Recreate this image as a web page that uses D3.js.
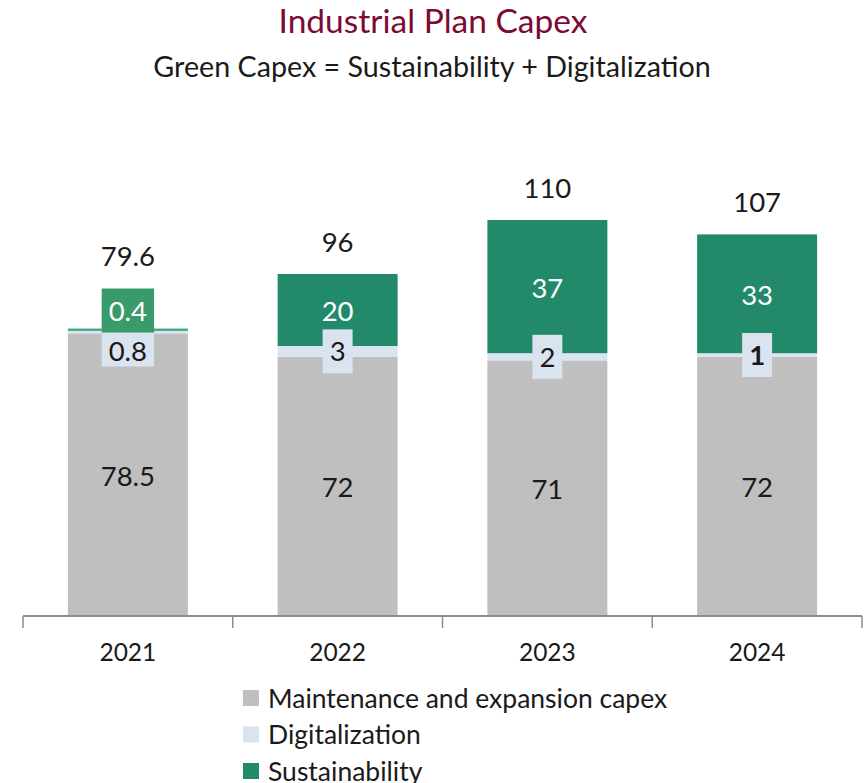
<!DOCTYPE html>
<html>
<head>
<meta charset="utf-8">
<script src="https://cdn.jsdelivr.net/npm/d3@7"></script>
<style>
  body { margin: 0; background: #fff; }
  svg text { font-family: Lato, "Open Sans", sans-serif; }
</style>
</head>
<body>
<div id="chart-area"></div>
<script>
// data
var years = ["2021", "2022", "2023", "2024"];
var maintenance = [78.5, 72, 71, 72];
var digitalization = [0.8, 3, 2, 1];
var sustainability = [0.4, 20, 37, 33];
var totals = ["79.6", "96", "110", "107"];
var seriesNames = ["Maintenance and expansion capex", "Digitalization", "Sustainability"];
var seriesColors = ["#bfbfbf", "#dae3f0", "#228a6b"];

var svg = d3.select("#chart-area").append("svg")
    .attr("width", 864)
    .attr("height", 783);

svg.append("text")
    .attr("x", 433).attr("y", 33)
    .attr("text-anchor", "middle")
    .attr("font-size", 33.5)
    .attr("fill", "#7b0a35")
    .text("Industrial Plan Capex");

svg.append("text")
    .attr("x", 432).attr("y", 77)
    .attr("text-anchor", "middle")
    .attr("font-size", 28.7)
    .attr("fill", "#1a1a1a")
    .text("Green Capex = Sustainability + Digitalization");

var x = d3.scaleBand()
    .domain(years)
    .range([23, 862])
    .paddingInner(0.428)
    .paddingOuter(0.214);

var y = d3.scaleLinear()
    .domain([0, 110])
    .range([616, 220]);

var data = years.map((yr, i)=>{
    return {
        year: yr,
        values: [maintenance[i], digitalization[i], sustainability[i]],
        total: totals[i]
    };
});

var stack = d3.stack().keys([0, 1, 2]).value((d, k)=>{return d.values[k];});
var layers = stack(data);

var g = svg.append("g");

layers.forEach((layer, k)=>{
    g.selectAll(".seg" + k)
        .data(layer)
        .enter()
        .append("rect")
        .attr("x", (d)=>{return x(d.data.year);})
        .attr("width", x.bandwidth())
        .attr("y", (d)=>{return y(d[1]);})
        .attr("height", (d)=>{return y(d[0]) - y(d[1]);})
        .attr("fill", seriesColors[k]);
});

// tiny sustainability segment outline (2021)
g.selectAll(".thin")
    .data(layers[2].filter((d)=>{return y(d[0]) - y(d[1]) < 3;}))
    .enter()
    .append("rect")
    .attr("x", (d)=>{return x(d.data.year);})
    .attr("width", x.bandwidth())
    .attr("y", (d)=>{return y(d[1]) - 0.5;})
    .attr("height", 2)
    .attr("fill", "#3aa785");

// axis
var axisY = 616;
svg.append("line")
    .attr("x1", x.range()[0]).attr("x2", x.range()[1])
    .attr("y1", axisY).attr("y2", axisY)
    .attr("stroke", "#8c8c8c").attr("stroke-width", 2);

var bounds = d3.range(years.length + 1).map((i)=>{return x.range()[0] + i * x.step();});
svg.selectAll(".tick-line")
    .data(bounds)
    .enter()
    .append("line")
    .attr("x1", (d)=>{return d;}).attr("x2", (d)=>{return d;})
    .attr("y1", axisY).attr("y2", axisY + 12)
    .attr("stroke", "#8c8c8c").attr("stroke-width", 1.5);

var xAxis = d3.axisBottom(x).tickSize(0).tickPadding(0);
var axisG = svg.append("g")
    .attr("transform", "translate(0," + (axisY + 45) + ")")
    .call(xAxis);
axisG.select(".domain").remove();
axisG.selectAll("text")
    .attr("dy", 0)
    .attr("y", 0)
    .attr("font-size", 24.5)
    .attr("font-family", "Lato, sans-serif")
    .attr("fill", "#1a1a1a");

var labelFont = 27.5;
var cx = (d)=>{return x(d.data.year) + x.bandwidth() / 2;};

// maintenance labels
g.selectAll(".lab0")
    .data(layers[0])
    .enter()
    .append("text")
    .attr("x", cx)
    .attr("y", (d)=>{return (y(d[0]) + y(d[1])) / 2 + 1;})
    .attr("dy", "0.36em")
    .attr("text-anchor", "middle")
    .attr("font-size", labelFont)
    .attr("fill", "#1a1a1a")
    .text((d)=>{return d.data.values[0];});

// box positions for digitalization / sustainability labels
var boxH = 44;
var boxInfo = data.map((d, i)=>{
    var dig = layers[1][i], sus = layers[2][i];
    var susH = y(sus[0]) - y(sus[1]);
    var info = {};
    if (susH < boxH) {
        // small green segment: push its label above, digital label below it
        info.susBottom = y(dig[1]) + 2;
        info.susTop = info.susBottom - boxH;
        info.susBox = true;
        info.digTop = info.susBottom;
        info.digBottom = info.digTop + 34;
    } else {
        var mid = (y(dig[0]) + y(dig[1])) / 2;
        info.digTop = mid - boxH / 2;
        info.digBottom = mid + boxH / 2;
        info.susTop = y(sus[1]);
        info.susBottom = y(sus[0]);
        info.susBox = false;
    }
    return info;
});

function textW(str, size, weight) {
    var t = svg.append("text").attr("font-size", size).attr("font-weight", weight || "normal").text(str);
    var w = t.node().getComputedTextLength();
    t.remove();
    return w;
}

// digitalization label boxes
data.forEach((d, i)=>{
    var b = boxInfo[i];
    var bold = d.year === "2024";
    var str = String(d.values[1]);
    var w = textW(str, labelFont, bold ? "bold" : "normal") + 14;
    var c = x(d.year) + x.bandwidth() / 2;
    g.append("rect")
        .attr("x", c - w / 2).attr("width", w)
        .attr("y", b.digTop).attr("height", b.digBottom - b.digTop)
        .attr("fill", "#dae3f0");
    g.append("text")
        .attr("x", c).attr("y", (b.digTop + b.digBottom) / 2 + (b.susBox ? 2 : 0))
        .attr("dy", "0.36em")
        .attr("text-anchor", "middle")
        .attr("font-size", labelFont)
        .attr("font-weight", bold ? "bold" : "normal")
        .attr("fill", "#1a1a1a")
        .text(str);
});

// sustainability labels
data.forEach((d, i)=>{
    var b = boxInfo[i];
    var str = String(d.values[2]);
    var c = x(d.year) + x.bandwidth() / 2;
    if (b.susBox) {
        var w = textW(str, labelFont) + 14;
        g.append("rect")
            .attr("x", c - w / 2).attr("width", w)
            .attr("y", b.susTop).attr("height", b.susBottom - b.susTop)
            .attr("fill", "#3a9b6a");
    }
    g.append("text")
        .attr("x", c).attr("y", (b.susTop + b.susBottom) / 2 + 1)
        .attr("dy", "0.36em")
        .attr("text-anchor", "middle")
        .attr("font-size", labelFont)
        .attr("fill", "#ffffff")
        .text(str);
});

// totals
data.forEach((d, i)=>{
    var b = boxInfo[i];
    var top = Math.min(y(layers[2][i][1]), b.susTop);
    g.append("text")
        .attr("x", x(d.year) + x.bandwidth() / 2)
        .attr("y", top - 32)
        .attr("dy", "0.36em")
        .attr("text-anchor", "middle")
        .attr("font-size", labelFont)
        .attr("fill", "#1a1a1a")
        .text(d.total);
});

// legend
var legend = svg.append("g").attr("transform", "translate(243,0)");
var legendRows = legend.selectAll(".leg")
    .data(seriesNames)
    .enter()
    .append("g")
    .attr("transform", (d, i)=>{return "translate(0," + (698 + i * 36.5) + ")";});
legendRows.append("rect")
    .attr("x", 0).attr("y", -8)
    .attr("width", 16).attr("height", 16)
    .attr("fill", (d, i)=>{return seriesColors[i];});
legendRows.append("text")
    .attr("x", 25)
    .attr("dy", "0.36em")
    .attr("font-size", 26.5)
    .attr("fill", "#1a1a1a")
    .text((d)=>{return d;});
</script>
</body>
</html>
